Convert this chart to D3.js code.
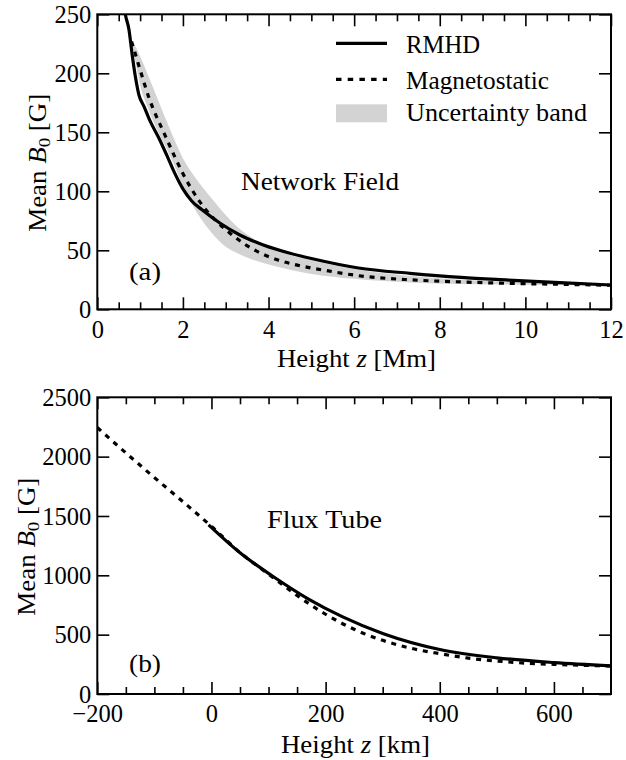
<!DOCTYPE html>
<html><head><meta charset="utf-8">
<script src="https://cdn.jsdelivr.net/npm/d3@7"></script>
<style>body{margin:0;background:#fff}</style>
</head><body><svg id="c" width="626" height="760"></svg>
<script>
// ---------- Panel (a): Network Field ----------
const netRmhdZ = [0.6, 0.66, 0.74, 0.81, 0.89, 0.97, 1.09, 1.24, 1.44, 1.63, 1.8, 2.0, 2.2, 2.44, 2.87, 3.33, 3.88, 4.5, 5.0, 6.1, 7.3, 8.5, 9.6, 10.8, 12];
const netRmhdB = [262, 249, 237, 217, 197, 182, 172, 159, 145, 130, 116, 102, 92, 84.5, 72.9, 63, 54.5, 47.5, 43, 35, 30.5, 27, 24.8, 22.6, 20.6];
const netMsZ = [0.8, 0.9, 1.05, 1.2, 1.35, 1.5, 1.65, 1.8, 2.0, 2.2, 2.5, 2.8, 3.1, 3.45, 3.88, 4.2, 4.6, 5.4, 6.1, 7.3, 8.5, 9.6, 10.8, 12];
const netMsB = [227, 215, 197, 180, 166, 154, 142, 130, 115, 102, 86, 74, 64.5, 55, 46.5, 42, 38, 32.5, 28.5, 25, 23.2, 22, 21.2, 20.4];
const netBandZ = [0.8, 0.9, 1.0, 1.2, 1.4, 1.6, 1.8, 2.0, 2.3, 2.6, 2.9, 3.3, 3.6, 3.9, 4.5, 5.0, 6.1, 7.3, 8.5, 9.6, 10.8, 12];
const netBandHi = [228, 222, 214.5, 197, 179, 161, 144, 128, 111, 97, 84, 69, 61, 54, 46, 41.5, 33.5, 28.3, 25.1, 23.2, 21.9, 20.8];
const netBandLo = [226, 208, 190, 169, 152, 137.5, 122, 104, 83.5, 68, 56, 47, 42.5, 39, 33.5, 30, 25.5, 22.8, 21.5, 21, 20.6, 20.3];
const netXMajor = [0, 2, 4, 6, 8, 10, 12];
const netYTicks = [0, 50, 100, 150, 200, 250];

// ---------- Panel (b): Flux Tube ----------
const fluxRmhdZ = [-5, 50, 108, 170, 230, 300, 400, 500, 600, 700];
const fluxRmhdB = [1425, 1190, 990, 800, 650, 510, 375, 305, 265, 238];
const fluxMsZ = [-200, -150, -100, -50, 0, 50, 100, 150, 200, 250, 300, 350, 400, 450, 500, 550, 600, 650, 700];
const fluxMsB = [2245, 2032, 1824, 1620, 1412, 1192, 1010, 830, 672, 545, 452, 385, 340, 302, 278, 260, 250, 242, 235];
const fluxXMajor = [-200, 0, 200, 400, 600];
const fluxYTicks = [0, 500, 1000, 1500, 2000, 2500];

const legendLabels = ["RMHD", "Magnetostatic", "Uncertainty band"];

const FONT = '"Liberation Serif", "Times New Roman", serif';
const svg = d3.select("#c");
svg.append("rect").attr("width", 626).attr("height", 760).attr("fill", "#fff");
const FS = 24.5;
const BAND = "#d3d3d3";
const LW = 3.2;
const DASH = "5,5.8";

function txt(parent) {
  return parent.append("text").style("font-family", FONT).attr("font-size", FS).attr("fill", "#000");
}

function panel(o) {
  const x = d3.scaleLinear().domain(o.xd).range([97.3, 611]);
  const y = d3.scaleLinear().domain(o.yd).range([o.y0, o.y1]);
  const g = svg.append("g");
  const clipId = "clip" + o.id;
  svg.append("clipPath").attr("id", clipId).append("rect")
    .attr("x", 97.3).attr("y", o.y1).attr("width", 611 - 97.3).attr("height", o.y0 - o.y1);
  const plot = g.append("g").attr("clip-path", `url(#${clipId})`);

  if (o.band) {
    const data = o.band.z.map((z, i) => [z, o.band.lo[i], o.band.hi[i]]);
    plot.append("path").datum(data)
      .attr("d", d3.area().x(d => x(d[0])).y0(d => y(d[1])).y1(d => y(d[2])).curve(d3.curveMonotoneX))
      .attr("fill", BAND).attr("stroke", "none");
  }
  const line = d3.line().x(d => x(d[0])).y(d => y(d[1])).curve(d3.curveMonotoneX);
  plot.append("path").datum(o.ms.z.map((z, i) => [z, o.ms.b[i]]))
    .attr("d", line).attr("fill", "none").attr("stroke", "#000").attr("stroke-width", LW)
    .attr("stroke-dasharray", DASH);
  plot.append("path").datum(o.rm.z.map((z, i) => [z, o.rm.b[i]]))
    .attr("d", line).attr("fill", "none").attr("stroke", "#000").attr("stroke-width", LW);

  const styleAx = sel => {
    sel.select(".domain").remove();
    sel.selectAll("line").attr("stroke", "#000").attr("stroke-width", 1.6);
    sel.selectAll("text").style("font-family", FONT).attr("font-size", FS).attr("fill", "#000");
  };
  const bx = g.append("g").attr("transform", `translate(0,${o.y0})`)
    .call(d3.axisBottom(x).tickValues(o.xMajor).tickSize(-12).tickFormat(o.xFmt)).call(styleAx);
  bx.selectAll("text").attr("y", o.xLabY - o.y0).attr("dy", 0);
  g.append("g").attr("transform", `translate(0,${o.y0})`)
    .call(d3.axisBottom(x).tickValues(o.xMinor).tickSize(-7).tickFormat("")).call(styleAx);
  g.append("g").attr("transform", `translate(0,${o.y1})`)
    .call(d3.axisTop(x).tickValues(o.xMajor).tickSize(-12).tickFormat("")).call(styleAx);
  g.append("g").attr("transform", `translate(0,${o.y1})`)
    .call(d3.axisTop(x).tickValues(o.xMinor).tickSize(-7).tickFormat("")).call(styleAx);
  const ly = g.append("g").attr("transform", `translate(97.3,0)`)
    .call(d3.axisLeft(y).tickValues(o.yTicks).tickSize(-12).tickFormat(d3.format("d"))).call(styleAx);
  ly.selectAll("text").attr("x", -6).attr("dy", "0.33em");
  g.append("g").attr("transform", `translate(611,0)`)
    .call(d3.axisRight(y).tickValues(o.yTicks).tickSize(-12).tickFormat("")).call(styleAx);

  g.append("rect").attr("x", 97.3).attr("y", o.y1).attr("width", 611 - 97.3).attr("height", o.y0 - o.y1)
    .attr("fill", "none").attr("stroke", "#000").attr("stroke-width", 2);

  const yt = txt(g).attr("text-anchor", "middle")
    .attr("transform", `translate(${o.yTitleX},${(o.y0 + o.y1) / 2 + 1}) rotate(-90)`)
    .attr("textLength", 138).attr("lengthAdjust", "spacingAndGlyphs");
  yt.append("tspan").text("Mean ");
  yt.append("tspan").attr("font-style", "italic").text("B");
  yt.append("tspan").attr("font-size", 17).attr("dy", 4).text("0");
  yt.append("tspan").attr("dy", -4).text(" [G]");

  const xt = txt(g).attr("x", o.xTitle[0]).attr("y", o.xTitle[1])
    .attr("textLength", o.xTitle[2]).attr("lengthAdjust", "spacingAndGlyphs");
  xt.append("tspan").text("Height ");
  xt.append("tspan").attr("font-style", "italic").text("z");
  xt.append("tspan").text(" [" + o.unit + "]");

  txt(g).attr("x", o.name[1]).attr("y", o.name[2])
    .attr("textLength", o.name[3]).attr("lengthAdjust", "spacingAndGlyphs").text(o.name[0]);
  txt(g).attr("x", 129).attr("y", o.tagY)
    .attr("textLength", 32).attr("lengthAdjust", "spacingAndGlyphs").text(o.tag);
}

panel({
  id: "a", xd: [0, 12], yd: [0, 250], y0: 309.3, y1: 14.3,
  xMajor: netXMajor, xMinor: d3.range(0.5, 12, 0.5).filter(v => v % 2 !== 0),
  xFmt: d3.format("d"), xLabY: 338, yTicks: netYTicks, yTitleX: 46,
  rm: {z: netRmhdZ, b: netRmhdB}, ms: {z: netMsZ, b: netMsB},
  band: {z: netBandZ, lo: netBandLo, hi: netBandHi},
  xTitle: [277, 367, 159], unit: "Mm",
  name: ["Network Field", 241, 190, 158], tag: "(a)", tagY: 280
});
panel({
  id: "b", xd: [-200, 700], yd: [0, 2500], y0: 694, y1: 397.3,
  xMajor: fluxXMajor, xMinor: d3.range(-150, 700, 50).filter(v => v % 200 !== 0),
  xFmt: d3.format("d"), xLabY: 722, yTicks: fluxYTicks, yTitleX: 35,
  rm: {z: fluxRmhdZ, b: fluxRmhdB}, ms: {z: fluxMsZ, b: fluxMsB},
  band: null,
  xTitle: [281, 753, 149], unit: "km",
  name: ["Flux Tube", 267, 528, 115], tag: "(b)", tagY: 672
});

const lg = svg.append("g");
lg.append("line").attr("x1", 336).attr("x2", 387).attr("y1", 43.3).attr("y2", 43.3)
  .attr("stroke", "#000").attr("stroke-width", LW);
lg.append("line").attr("x1", 336).attr("x2", 387).attr("y1", 79.3).attr("y2", 79.3)
  .attr("stroke", "#000").attr("stroke-width", LW).attr("stroke-dasharray", "5.5,6.2");
lg.append("rect").attr("x", 336).attr("y", 104.3).attr("width", 51).attr("height", 18).attr("fill", BAND);
const legW = [74, 143, 181];
const legY = [53, 88.5, 121];
legendLabels.forEach((t, i) => {
  txt(lg).attr("x", 406).attr("y", legY[i])
    .attr("textLength", legW[i]).attr("lengthAdjust", "spacingAndGlyphs").text(t);
});
</script></body></html>
